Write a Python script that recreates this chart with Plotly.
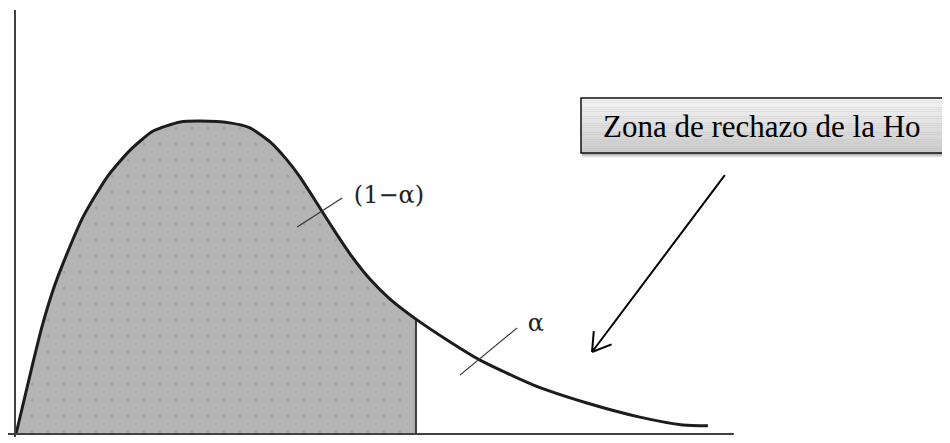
import math
import plotly.graph_objects as go

# density curve (x along the axis, y scaled so the peak is 1)
curve_x = [0.0, 0.47, 0.72, 1.03, 1.31, 1.86, 2.53, 3.17, 3.81, 4.56, 5.11, 5.94, 6.50, 7.06, 7.53,
           7.89, 8.25, 8.53, 8.92, 9.28, 9.83, 10.39, 11.11, 12.06, 12.89, 14.36, 15.86, 17.33, 18.53, 19.22]
curve_y = [0.0, 0.227, 0.342, 0.460, 0.546, 0.693, 0.821, 0.907, 0.968, 0.997, 1.0, 0.994, 0.978, 0.933, 0.875,
           0.821, 0.757, 0.706, 0.636, 0.575, 0.495, 0.431, 0.367, 0.294, 0.236, 0.157, 0.099, 0.054, 0.029, 0.026]
critical_x = 11.11
axis_end_x = 19.94
axis_top_y = 1.355

# area labels and the little slash marks pointing at each area
label_text = ["(1−α)", "α"]
label_x = [10.36, 14.44]
label_y = [0.757, 0.348]
tick_x0 = [7.81, 12.33]
tick_y0 = [0.661, 0.188]
tick_x1 = [9.06, 13.92]
tick_y1 = [0.754, 0.339]

box_text = "Zona de rechazo de la Ho"
arrow_tail = (19.69, 0.827)
arrow_tip = (16.0, 0.262)

# page geometry: the page body has an 8px margin, so the figure is shrunk by it
OFF = 8
W, H = 950 - OFF, 443 - OFF
PX_X, PX_Y = 36.0, 313.0
X0_PX, Y0_PX = 16 - OFF, 434 - OFF
BOX_PX = (581, 98, 947, 153)  # left, top, right, bottom on the page

fig = go.Figure()

# shaded acceptance area, left of the critical value
shade_x = [x for x in curve_x if x <= critical_x]
shade_y = curve_y[:len(shade_x)]
fig.add_trace(go.Scatter(
    x=shade_x, y=shade_y, mode="lines", fill="tozeroy",
    line=dict(width=0, shape="spline", smoothing=0.6),
    fillcolor="#b4b4b4",
    fillpattern=dict(shape=".", size=16, solidity=0.02, fgcolor="#8a8a8a", bgcolor="#b4b4b4"),
    hoverinfo="skip",
))

# critical value line
fig.add_trace(go.Scatter(
    x=[critical_x, critical_x], y=[0, shade_y[-1]], mode="lines",
    line=dict(color="#3c3c3c", width=2), hoverinfo="skip",
))

# the density curve
fig.add_trace(go.Scatter(
    x=curve_x, y=curve_y, mode="lines",
    line=dict(color="#1c1c1c", width=3, shape="spline", smoothing=0.6),
    hoverinfo="skip",
))

# slash marks
for xa, ya, xb, yb in zip(tick_x0, tick_y0, tick_x1, tick_y1):
    fig.add_trace(go.Scatter(
        x=[xa, xb], y=[ya, yb], mode="lines",
        line=dict(color="#333333", width=1.2), hoverinfo="skip",
    ))

fig.add_trace(go.Scatter(
    x=label_x, y=label_y, mode="text", text=label_text,
    textfont=dict(family="DejaVu Serif", size=24, color="#222222"),
    hoverinfo="skip",
))

# axes drawn as plain lines
shapes = [
    dict(type="line", x0=-1 / PX_X, x1=-1 / PX_X, y0=axis_top_y, y1=-3 / PX_Y,
         line=dict(color="#404040", width=2)),
    dict(type="line", x0=-8 / PX_X, x1=axis_end_x, y0=0, y1=0,
         line=dict(color="#404040", width=2)),
]


def px_to_paper(px, py):
    return (px - OFF) / W, 1 - (py - OFF) / H


# box with a soft shadow and a vertical grey gradient
bl, bt, br, bb = BOX_PX
for i, alpha in enumerate([0.05, 0.07, 0.09, 0.12]):
    off = 5 - i
    x0, y0 = px_to_paper(bl + 1, bb + off)
    x1, y1 = px_to_paper(br + off, bt + 2)
    shapes.append(dict(type="rect", xref="paper", yref="paper", layer="above",
                       x0=x0, x1=x1, y0=y0, y1=y1,
                       fillcolor=f"rgba(0,0,0,{alpha})", line=dict(width=0)))
n_strips = 24
top_c, bot_c = 244, 204
for i in range(n_strips):
    t = i / (n_strips - 1)
    g = round(top_c + (bot_c - top_c) * t)
    x0, y1 = px_to_paper(bl, bt + (bb - bt) * i / n_strips)
    x1, y0 = px_to_paper(br, bt + (bb - bt) * (i + 1) / n_strips)
    shapes.append(dict(type="rect", xref="paper", yref="paper", layer="above",
                       x0=x0, x1=x1, y0=y0, y1=y1,
                       fillcolor=f"rgb({g},{g},{g})", line=dict(width=0)))
x0, y0 = px_to_paper(bl, bb)
x1, y1 = px_to_paper(br, bt)
shapes.append(dict(type="rect", xref="paper", yref="paper", layer="above",
                   x0=x0, x1=x1, y0=y0, y1=y1,
                   fillcolor="rgba(0,0,0,0)", line=dict(color="#111111", width=1.5)))

# arrow with an open head
tx, ty = arrow_tail
hx, hy = arrow_tip
dx, dy = (tx - hx) * PX_X, (ty - hy) * PX_Y
ang = math.atan2(dy, dx)
barb = 21
path = f"M {tx},{ty} L {hx},{hy}"
for s in (1, -1):
    a = ang + s * math.radians(32)
    bx = hx + barb * math.cos(a) / PX_X
    by = hy + barb * math.sin(a) / PX_Y
    path += f" M {bx},{by} L {hx},{hy}"
shapes.append(dict(type="path", path=path, line=dict(color="#000000", width=2)))

tx_p, ty_p = px_to_paper((bl + br) / 2 - 2, 127)
annotations = [dict(
    xref="paper", yref="paper", x=tx_p, y=ty_p,
    text=box_text, showarrow=False, xanchor="center", yanchor="middle",
    font=dict(family="Liberation Serif", size=31, color="#000000"),
)]

axis_style = dict(showgrid=False, zeroline=False, showticklabels=False, showline=False, ticks="")
fig.update_layout(
    width=W, height=H,
    margin=dict(l=0, r=0, t=0, b=0),
    paper_bgcolor="white", plot_bgcolor="white",
    showlegend=False,
    xaxis=dict(range=[-X0_PX / PX_X, (W - X0_PX) / PX_X], **axis_style),
    yaxis=dict(range=[(Y0_PX - H) / PX_Y, Y0_PX / PX_Y], **axis_style),
    shapes=shapes,
    annotations=annotations,
)

fig.write_html("out.html")
